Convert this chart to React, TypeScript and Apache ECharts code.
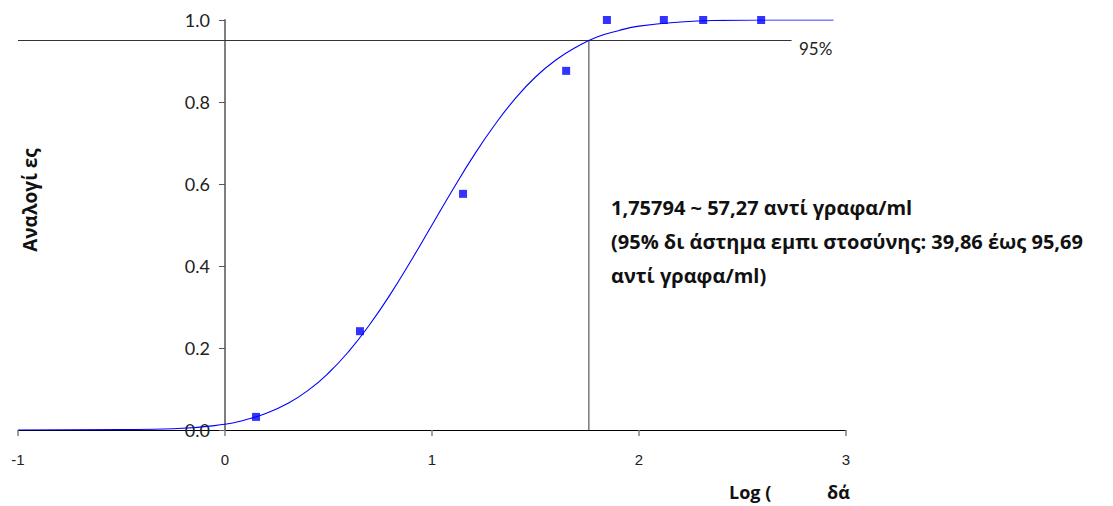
import React, { useEffect, useRef } from "react";
import * as echarts from "echarts";

// Observed data points (log concentration vs. proportion)
const pointX = [0.15, 0.652, 1.15, 1.648, 1.845, 2.12, 2.31, 2.59];
const pointY = [0.032, 0.241, 0.576, 0.876, 1.0, 1.0, 1.0, 1.0];

// Fitted curve
const curveX = [-1, -0.5, -0.25, 0, 0.1, 0.2, 0.3, 0.4, 0.5, 0.6, 0.7, 0.8, 0.9, 1.0, 1.1, 1.2, 1.3, 1.4, 1.5, 1.6, 1.7, 1.8, 1.9, 2.0, 2.2, 2.4, 2.6, 2.94];
const curveY = [0.0, 0.001, 0.003, 0.014, 0.025, 0.041, 0.064, 0.096, 0.139, 0.193, 0.258, 0.332, 0.414, 0.5, 0.586, 0.668, 0.742, 0.807, 0.861, 0.903, 0.935, 0.959, 0.974, 0.985, 0.995, 0.999, 1.0, 1.0];

const xTicks = [-1, 0, 1, 2, 3];
const yTicks = [0, 0.2, 0.4, 0.6, 0.8, 1.0];

const cutoffX = 1.75794;
const cutoffY = 0.95;
const refLineStartX = -1;
const refLineEndX = 2.737;

const annotationLines = [
  "1,75794 ~ 57,27 αντί γραφα/ml",
  "(95% δι άστημα εμπι στοσύνης: 39,86 έως 95,69",
  "αντί γραφα/ml)",
];
const yTitle = "Αναλογί ες";
const xTitleA = "Log (";
const xTitleB = "δά";
const refLabel = "95%";

export default function App() {
  const ref = useRef<HTMLDivElement>(null);
  useEffect(() => {
    if (!ref.current) return;
    const chart = echarts.init(ref.current, undefined, { renderer: "svg" });
    const boldFont = "'Open Sans'";
    const gridLeft = 18;
    const gridRight = 267;
    const plotWidth = 1113 - gridLeft - gridRight;
    const xMin = xTicks[0];
    const xMax = xTicks[xTicks.length - 1];
    const yAxisOffset = -((0 - xMin) / (xMax - xMin)) * plotWidth;
    chart.setOption({
      animation: false,
      backgroundColor: "#ffffff",
      grid: {
        left: gridLeft,
        right: gridRight,
        top: 20,
        bottom: 76,
        containLabel: false,
        outerBoundsMode: "none",
      },
      xAxis: {
        type: "value",
        min: xMin,
        max: xMax,
        interval: 1,
        axisLine: { show: true, onZero: false, lineStyle: { color: "#000000", width: 1 } },
        axisTick: { show: true, length: 6, lineStyle: { color: "#808080", width: 1.5 } },
        axisLabel: { margin: 22, fontSize: 15, color: "#222", fontFamily: "Liberation Sans" },
        splitLine: { show: false },
      },
      yAxis: {
        type: "value",
        min: yTicks[0],
        max: yTicks[yTicks.length - 1],
        interval: 0.2,
        offset: yAxisOffset,
        axisLine: { show: true, onZero: false, lineStyle: { color: "#7f7f7f", width: 2 } },
        axisTick: { show: true, length: 6, lineStyle: { color: "#555", width: 1 } },
        axisLabel: {
          margin: 15,
          fontSize: 18,
          color: "#222",
          fontFamily: "Lato",
          formatter: (v: number) => v.toFixed(1),
        },
        splitLine: { show: false },
      },
      series: [
        {
          type: "line",
          data: [[refLineStartX, cutoffY], [refLineEndX, cutoffY]],
          symbol: "none",
          lineStyle: { color: "#333", width: 1 },
          z: 1,
          silent: true,
        },
        {
          type: "line",
          data: [[cutoffX, cutoffY], [cutoffX, 0]],
          symbol: "none",
          lineStyle: { color: "#333", width: 1 },
          z: 1,
          silent: true,
        },
        {
          type: "line",
          data: curveX.map((x, i) => [x, curveY[i]]),
          symbol: "none",
          smooth: true,
          lineStyle: { color: "#0000ff", width: 1.1 },
          z: 2,
        },
        {
          type: "scatter",
          data: pointX.map((x, i) => [x, pointY[i]]),
          symbol: "rect",
          symbolSize: 8,
          itemStyle: { color: "#0000ff" },
          z: 3,
        },
      ],
      graphic: [
        {
          type: "text",
          x: 799,
          y: 48,
          style: { text: refLabel, font: "17px Lato", fill: "#222", verticalAlign: "middle" },
        },
        ...annotationLines.map((t, i) => ({
          type: "text",
          x: 611,
          y: 207 + i * 34,
          style: { text: t, font: `bold 20px ${boldFont}`, fill: "#111", verticalAlign: "middle" },
        })),
        {
          type: "text",
          x: 30,
          y: 200,
          rotation: Math.PI / 2,
          style: {
            text: yTitle,
            font: `bold 19px ${boldFont}`,
            fill: "#111",
            align: "center",
            verticalAlign: "middle",
          },
        },
        {
          type: "text",
          x: 729,
          y: 492,
          style: { text: xTitleA, font: `bold 18px ${boldFont}`, fill: "#111", verticalAlign: "middle" },
        },
        {
          type: "text",
          x: 827,
          y: 492,
          style: { text: xTitleB, font: `bold 18px ${boldFont}`, fill: "#111", verticalAlign: "middle" },
        },
      ],
    });
    return () => chart.dispose();
  }, []);
  return (
    <div
      ref={ref}
      style={{ position: "absolute", left: 0, top: 0, width: 1113, height: 506 }}
    />
  );
}
